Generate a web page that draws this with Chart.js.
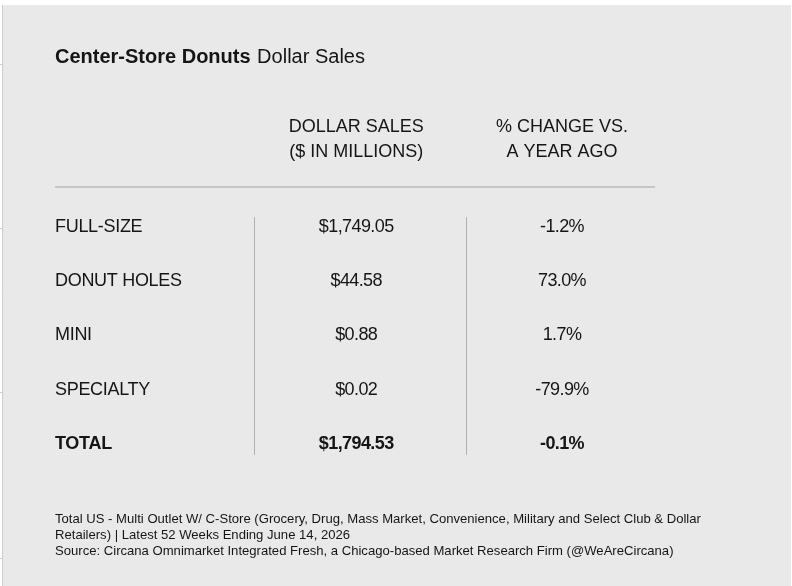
<!DOCTYPE html>
<html>
<head>
<meta charset="utf-8">
<script src="https://cdn.jsdelivr.net/npm/chart.js@4.4.1/dist/chart.umd.min.js"></script>
<style>
  html, body { margin: 0; padding: 0; background: #ffffff; }
  #wrap { width: 792px; height: 586px; position: relative; }
</style>
</head>
<body>
<div id="wrap"><canvas id="tableChart"></canvas></div>
<script>
const categories = ['FULL-SIZE', 'DONUT HOLES', 'MINI', 'SPECIALTY', 'TOTAL'];
const dollarSales = [1749.05, 44.58, 0.88, 0.02, 1794.53];
const pctChange = [-1.2, 73.0, 1.7, -79.9, -0.1];
const columnHeaders = [['DOLLAR SALES', '($ IN MILLIONS)'], ['% CHANGE VS.', 'A YEAR AGO']];
const titleBold = 'Center-Store Donuts';
const titleRest = 'Dollar Sales';
const footnotes = [
    'Total US - Multi Outlet W/ C-Store (Grocery, Drug, Mass Market, Convenience, Military and Select Club & Dollar',
    'Retailers) | Latest 52 Weeks Ending June 14, 2026',
    'Source: Circana Omnimarket Integrated Fresh, a Chicago-based Market Research Firm (@WeAreCircana)'
];

/* Column positions on the (hidden) x scale, 0 = left edge of the table, 1 = right edge */
const colLabel = 0;
const colSales = 0.502;
const colChange = 0.845;
const dividers = [0.332, 0.685];

const FONT = '"Liberation Sans", Arial, sans-serif';
const INK = '#151515';

function fmtSales(v) {
    return '$' + v.toLocaleString('en-US', { minimumFractionDigits: 2, maximumFractionDigits: 2 });
}
function fmtPct(v) {
    return v.toFixed(1) + '%';
}

/* Plugin: draws the table text at the positions of the dataset points */
const tablePlugin = {
    id: 'tablePlugin',
    beforeDraw(chart) {
        const ctx = chart.ctx;
        const w = chart.width, h = chart.height;
        ctx.save();
        ctx.fillStyle = '#ffffff';
        ctx.fillRect(0, 0, w, h);
        ctx.fillStyle = '#e9e9e9';
        ctx.fillRect(2, 5, w - 3, h - 5);
        ctx.strokeStyle = '#cdcdcd';
        ctx.lineWidth = 1;
        ctx.beginPath();
        ctx.moveTo(2.5, 5);
        ctx.lineTo(2.5, h);
        [64, 228, 392, 558].forEach(y => {
            ctx.moveTo(0, y + 0.5);
            ctx.lineTo(2, y + 0.5);
        });
        ctx.stroke();
        ctx.restore();
    },
    afterDatasetsDraw(chart) {
        const ctx = chart.ctx;
        const area = chart.chartArea;
        const x = chart.scales.x;
        const y = chart.scales.y;
        ctx.save();
        ctx.fillStyle = INK;
        ctx.textBaseline = 'alphabetic';

        /* title */
        ctx.textAlign = 'left';
        ctx.font = 'bold 20px ' + FONT;
        ctx.fillText(titleBold, area.left, 63);
        const bw = ctx.measureText(titleBold + ' ').width;
        ctx.font = '20px ' + FONT;
        ctx.fillText(titleRest, area.left + bw + 1, 63);

        /* column headers */
        ctx.textAlign = 'center';
        ctx.textBaseline = 'middle';
        ctx.font = '18px ' + FONT;
        [colSales, colChange].forEach((c, i) => {
            const px = x.getPixelForValue(c);
            ctx.fillText(columnHeaders[i][0], px, 127);
            ctx.fillText(columnHeaders[i][1], px, 152);
        });

        /* header rule */
        ctx.strokeStyle = '#c6c6c6';
        ctx.lineWidth = 2;
        ctx.beginPath();
        ctx.moveTo(area.left, 187);
        ctx.lineTo(area.right, 187);
        ctx.stroke();

        /* column dividers */
        ctx.strokeStyle = '#b0b0b0';
        ctx.lineWidth = 1;
        ctx.beginPath();
        const top = y.getPixelForValue(0) - 9;
        const bottom = y.getPixelForValue(categories.length - 1) + 12;
        dividers.forEach(d => {
            const px = Math.round(x.getPixelForValue(d)) + 0.5;
            ctx.moveTo(px, top);
            ctx.lineTo(px, bottom);
        });
        ctx.stroke();

        /* cells, placed at each point element */
        chart.data.datasets.forEach((ds, di) => {
            const meta = chart.getDatasetMeta(di);
            ctx.letterSpacing = ds.cellSpacing;
            meta.data.forEach((el, i) => {
                const bold = i === categories.length - 1;
                ctx.font = (bold ? 'bold ' : '') + '18px ' + FONT;
                ctx.textAlign = ds.cellAlign;
                ctx.fillText(ds.cellText[i], el.x, el.y + 1);
            });
        });

        /* footnotes */
        ctx.textAlign = 'left';
        ctx.font = '13.1px ' + FONT;
        ctx.letterSpacing = '0px';
        footnotes.forEach((t, i) => {
            ctx.fillText(t, area.left, 519 + i * 16.4);
        });
        ctx.restore();
    }
};

new Chart(document.getElementById('tableChart'), {
    type: 'scatter',
    data: {
        datasets: [
            {
                label: 'Category',
                data: categories.map(c => ({ x: colLabel, y: c })),
                cellText: categories,
                cellAlign: 'left',
                cellSpacing: '-0.3px',
                pointRadius: 0
            },
            {
                label: 'Dollar Sales',
                data: categories.map(c => ({ x: colSales, y: c })),
                cellText: dollarSales.map(fmtSales),
                cellAlign: 'center',
                cellSpacing: '-0.6px',
                pointRadius: 0
            },
            {
                label: '% Change',
                data: categories.map(c => ({ x: colChange, y: c })),
                cellText: pctChange.map(fmtPct),
                cellAlign: 'center',
                cellSpacing: '-0.6px',
                pointRadius: 0
            }
        ]
    },
    options: {
        responsive: true,
        maintainAspectRatio: false,
        animation: false,
        events: [],
        layout: { padding: { left: 55, right: 137, top: 199, bottom: 116 } },
        scales: {
            x: { type: 'linear', min: 0, max: 1, display: false },
            y: { type: 'category', labels: categories, offset: true, display: false }
        },
        plugins: {
            legend: { display: false },
            tooltip: { enabled: false }
        }
    },
    plugins: [tablePlugin]
});
</script>
</body>
</html>
